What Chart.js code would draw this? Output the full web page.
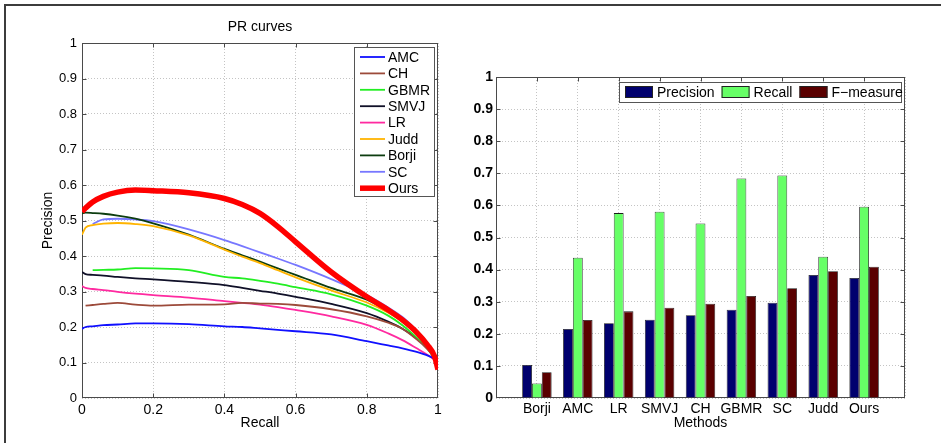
<!DOCTYPE html>
<html>
<head>
<meta charset="utf-8">
<script src="https://cdn.jsdelivr.net/npm/chart.js@4.4.0/dist/chart.umd.min.js"></script>
<style>
  html, body { margin: 0; padding: 0; background: #fff; }
  body { width: 941px; height: 443px; position: relative; overflow: hidden; }
  .frame { position: absolute; left: 4px; top: 4px; width: 980px; height: 480px;
           border-top: 2px solid #3c3c3c; border-left: 2px solid #3c3c3c; }
  #wrapL { position: absolute; left: 0; top: 0; width: 470px; height: 443px; }
  #wrapR { position: absolute; left: 470px; top: 0; width: 471px; height: 443px; }
</style>
</head>
<body>
<div class="frame"></div>
<div id="wrapL"><canvas id="prChart" width="470" height="443"></canvas></div>
<div id="wrapR"><canvas id="barChart" width="471" height="443"></canvas></div>
<script>
// ---- PR curves (left) ----
const recall = [0, 0.01, 0.03, 0.06, 0.1, 0.15, 0.2, 0.3, 0.4, 0.45, 0.5, 0.55, 0.6, 0.7, 0.8, 0.86, 0.9, 0.94, 0.97, 0.99, 1];

const precAMC   = [0.195, 0.2, 0.202, 0.205, 0.207, 0.21, 0.21, 0.208, 0.202, 0.2, 0.196, 0.192, 0.188, 0.179, 0.16, 0.148, 0.14, 0.13, 0.12, 0.11, 0.1];
const precCH    = [null, 0.26, 0.262, 0.265, 0.268, 0.263, 0.26, 0.263, 0.264, 0.268, 0.266, 0.265, 0.262, 0.25, 0.23, 0.212, 0.195, 0.165, 0.138, 0.115, 0.1];
const precGBMR  = [null, null, 0.36, 0.361, 0.362, 0.366, 0.365, 0.36, 0.341, 0.337, 0.33, 0.322, 0.312, 0.292, 0.26, 0.232, 0.205, 0.17, 0.14, 0.11, 0.1];
const precSMVJ  = [0.355, 0.349, 0.347, 0.345, 0.341, 0.337, 0.334, 0.327, 0.318, 0.31, 0.302, 0.294, 0.285, 0.265, 0.239, 0.215, 0.195, 0.168, 0.14, 0.115, 0.1];
const precLR    = [0.315, 0.31, 0.307, 0.304, 0.299, 0.294, 0.29, 0.283, 0.273, 0.268, 0.263, 0.256, 0.248, 0.23, 0.206, 0.182, 0.163, 0.14, 0.122, 0.108, 0.1];
const precJudd  = [0.46, 0.48, 0.487, 0.491, 0.493, 0.49, 0.484, 0.458, 0.418, 0.398, 0.38, 0.36, 0.34, 0.303, 0.269, 0.24, 0.215, 0.18, 0.145, 0.112, 0.1];
const precBorji = [0.52, 0.522, 0.521, 0.519, 0.514, 0.505, 0.492, 0.46, 0.42, 0.402, 0.384, 0.365, 0.347, 0.31, 0.277, 0.245, 0.22, 0.185, 0.15, 0.115, 0.1];
const precSC    = [null, null, 0.49, 0.503, 0.505, 0.503, 0.498, 0.475, 0.445, 0.428, 0.41, 0.393, 0.375, 0.335, 0.29, 0.255, 0.228, 0.19, 0.155, 0.12, 0.1];
const precOurs  = [0.525, 0.535, 0.552, 0.568, 0.58, 0.586, 0.584, 0.578, 0.562, 0.545, 0.52, 0.483, 0.44, 0.355, 0.285, 0.248, 0.22, 0.185, 0.15, 0.118, 0.08];

// ---- bar chart (right) ----
const methods   = ['Borji', 'AMC', 'LR', 'SMVJ', 'CH', 'GBMR', 'SC', 'Judd', 'Ours'];
const precision = [0.103, 0.215, 0.233, 0.244, 0.258, 0.275, 0.297, 0.383, 0.374];
const recallBar = [0.045, 0.437, 0.576, 0.58, 0.544, 0.684, 0.693, 0.44, 0.596];
const fMeasure  = [0.08, 0.243, 0.27, 0.281, 0.294, 0.318, 0.342, 0.395, 0.409];

const FONT = '"Liberation Sans", Arial, Helvetica, sans-serif';
const tickFmt = v => String(Number(v.toFixed(2)));

const curves = [
    { label: 'AMC',   data: precAMC,   color: '#1010ff', width: 1.8 },
    { label: 'CH',    data: precCH,    color: '#9c4a3a', width: 1.8 },
    { label: 'GBMR',  data: precGBMR,  color: '#22ee22', width: 1.8 },
    { label: 'SMVJ',  data: precSMVJ,  color: '#101028', width: 1.8 },
    { label: 'LR',    data: precLR,    color: '#ff2aa0', width: 1.8 },
    { label: 'Judd',  data: precJudd,  color: '#ffb400', width: 1.8 },
    { label: 'Borji', data: precBorji, color: '#0d3d10', width: 1.8 },
    { label: 'SC',    data: precSC,    color: '#7777ff', width: 1.8 },
    { label: 'Ours',  data: precOurs,  color: '#ff0000', width: 5.5 }
];

// matlab-like box with inward tick marks
const matlabBox = {
    id: 'matlabBox',
    beforeDatasetsDraw(chart) {
        const { ctx, chartArea: a, scales } = chart;
        const L = Math.round(a.left) + 0.5, R = Math.round(a.right) - 0.5;
        const T = Math.round(a.top) + 0.5, B = Math.round(a.bottom) - 0.5;
        ctx.save();
        ctx.strokeStyle = '#4a4a4a';
        ctx.lineWidth = 1;
        ctx.beginPath();
        scales.x.ticks.forEach((t, i) => {
            const px = Math.round(scales.x.getPixelForTick(i)) + 0.5;
            if (px <= L + 1 || px >= R - 1) return;
            ctx.moveTo(px, B); ctx.lineTo(px, B - 4);
            ctx.moveTo(px, T); ctx.lineTo(px, T + 4);
        });
        scales.y.ticks.forEach((t, i) => {
            const py = Math.round(scales.y.getPixelForTick(i)) + 0.5;
            if (py <= T + 1 || py >= B - 1) return;
            ctx.moveTo(L, py); ctx.lineTo(L + 4, py);
            ctx.moveTo(R, py); ctx.lineTo(R - 4, py);
        });
        ctx.stroke();
        ctx.strokeRect(L, T, R - L, B - T);
        ctx.restore();
    }
};

// title + legend box for the PR curves
const prExtras = {
    id: 'prExtras',
    afterDraw(chart) {
        const { ctx, chartArea: a } = chart;
        ctx.save();
        ctx.fillStyle = '#000';
        ctx.font = '14px ' + FONT;
        ctx.textAlign = 'center';
        ctx.textBaseline = 'middle';
        ctx.fillText('PR curves', (a.left + a.right) / 2, 27);

        const w = 80, h = 149;
        const x = a.right - 4 - w, y = a.top + 4;
        ctx.fillStyle = '#fff';
        ctx.fillRect(x, y, w, h);
        ctx.strokeStyle = '#555';
        ctx.lineWidth = 1;
        ctx.strokeRect(x + 0.5, y + 0.5, w, h);
        ctx.textAlign = 'left';
        ctx.font = '14px ' + FONT;
        curves.forEach((c, i) => {
            const cy = y + 10 + i * 16.4;
            ctx.strokeStyle = c.color;
            ctx.lineWidth = c.width;
            ctx.beginPath();
            ctx.moveTo(x + 6, cy); ctx.lineTo(x + 31, cy);
            ctx.stroke();
            ctx.fillStyle = '#000';
            ctx.fillText(c.label, x + 34, cy + 1);
        });
        ctx.restore();
    }
};

new Chart(document.getElementById('prChart'), {
    type: 'line',
    data: {
        datasets: curves.map(c => ({
            label: c.label,
            data: recall.map((r, i) => ({ x: r, y: c.data[i] })).filter(p => p.y !== null),
            borderColor: c.color,
            borderWidth: c.width,
            pointRadius: 0,
            fill: false,
            cubicInterpolationMode: 'monotone',
            order: c.label === 'Ours' ? 0 : 1
        }))
    },
    options: {
        responsive: false,
        animation: false,
        layout: { padding: { left: 0, top: 43, right: 32, bottom: 0 } },
        plugins: { legend: { display: false }, tooltip: { enabled: false } },
        scales: {
            x: {
                type: 'linear', min: 0, max: 1,
                ticks: { stepSize: 0.2, color: '#000', padding: 4, maxRotation: 0, callback: tickFmt, font: { size: 14, family: FONT } },
                grid: { color: '#c4c4c4', drawTicks: false },
                border: { display: false, dash: [1, 2] },
                title: { display: true, text: 'Recall', color: '#000', font: { size: 14, family: FONT }, padding: { top: 0, bottom: 11 } },
                afterFit: s => { s.height = 45; }
            },
            y: {
                type: 'linear', min: 0, max: 1,
                ticks: { stepSize: 0.1, color: '#000', padding: 5, callback: tickFmt, font: { size: 13, family: FONT } },
                grid: { color: '#c4c4c4', drawTicks: false },
                border: { display: false, dash: [1, 2] },
                title: { display: true, text: 'Precision', color: '#000', font: { size: 14, family: FONT }, padding: { top: 40, bottom: 0 } },
                afterFit: s => { s.width = 82; }
            }
        }
    },
    plugins: [matlabBox, prExtras]
});

// ---- bars ----
const barSeries = [
    { label: 'Precision', data: precision, color: '#00006e' },
    { label: 'Recall',    data: recallBar, color: '#66ff66' },
    { label: 'F\u2212measure', data: fMeasure, color: '#5a0000' }
];

const barLegend = {
    id: 'barLegend',
    afterDraw(chart) {
        const { ctx, chartArea: a } = chart;
        const x = 149, y = a.top + 5, w = a.right - 4 - 149, h = 20;
        ctx.save();
        ctx.fillStyle = '#fff';
        ctx.fillRect(x, y, w, h);
        ctx.strokeStyle = '#555';
        ctx.lineWidth = 1;
        ctx.strokeRect(x + 0.5, y + 0.5, w, h);
        ctx.font = '14px ' + FONT;
        ctx.textBaseline = 'middle';
        let cx = x + 6;
        barSeries.forEach(s => {
            ctx.fillStyle = s.color;
            ctx.fillRect(cx, y + 4, 28, 12);
            ctx.strokeStyle = '#222';
            ctx.strokeRect(cx + 0.5, y + 4.5, 27, 11);
            ctx.fillStyle = '#000';
            ctx.fillText(s.label, cx + 32, y + 11);
            cx += 32 + ctx.measureText(s.label).width + 7;
        });
        ctx.restore();
    }
};

const pad = arr => [null, ...arr, null];

new Chart(document.getElementById('barChart'), {
    type: 'bar',
    data: {
        labels: ['', ...methods, ''],
        datasets: barSeries.map(s => ({
            label: s.label,
            data: pad(s.data),
            backgroundColor: s.color,
            borderColor: '#1a1a1a',
            borderWidth: 0.8,
            categoryPercentage: 0.72,
            barPercentage: 1.0
        }))
    },
    options: {
        responsive: false,
        animation: false,
        layout: { padding: { left: 0, top: 77, right: 36, bottom: 0 } },
        plugins: { legend: { display: false }, tooltip: { enabled: false } },
        scales: {
            x: {
                type: 'category', offset: false,
                ticks: { color: '#000', padding: 3, maxRotation: 0, autoSkip: false, font: { size: 14, family: FONT } },
                grid: { color: '#c4c4c4', drawTicks: false, offset: false },
                border: { display: false, dash: [1, 2] },
                title: { display: true, text: 'Methods', color: '#000', font: { size: 14, family: FONT }, padding: { top: 0, bottom: 11 } },
                afterFit: s => { s.height = 45; }
            },
            y: {
                min: 0, max: 1,
                ticks: { stepSize: 0.1, color: '#000', padding: 3, callback: tickFmt, font: { size: 14, weight: 'bold', family: FONT } },
                grid: { color: '#c4c4c4', drawTicks: false },
                border: { display: false, dash: [1, 2] },
                afterFit: s => { s.width = 26; }
            }
        }
    },
    plugins: [matlabBox, barLegend]
});
</script>
</body>
</html>
